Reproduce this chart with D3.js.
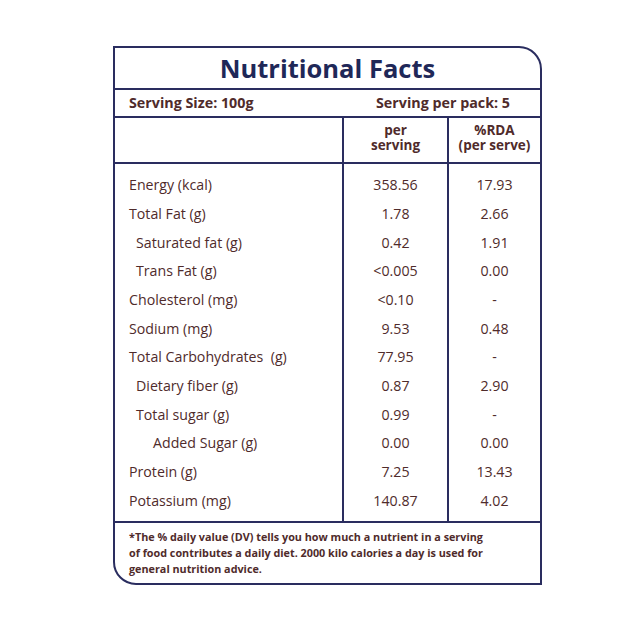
<!DOCTYPE html>
<html>
<head>
<meta charset="utf-8">
<script src="https://cdn.jsdelivr.net/npm/d3@7"></script>
<style>
  body { margin: 0; background: #fff; }
  svg { display: block; }
</style>
</head>
<body>
<div id="chart"></div>
<script>
// table content
const nutrients = [
  "Energy (kcal)", "Total Fat (g)", "Saturated fat (g)", "Trans Fat (g)",
  "Cholesterol (mg)", "Sodium (mg)", "Total Carbohydrates  (g)", "Dietary fiber (g)",
  "Total sugar (g)", "Added Sugar (g)", "Protein (g)", "Potassium (mg)"
];
const indentLevel = [0, 0, 1, 1, 0, 0, 0, 1, 1, 2, 0, 0];
const perServing = ["358.56", "1.78", "0.42", "<0.005", "<0.10", "9.53", "77.95",
  "0.87", "0.99", "0.00", "7.25", "140.87"];
const rdaPerServe = ["17.93", "2.66", "1.91", "0.00", "-", "0.48", "-",
  "2.90", "-", "0.00", "13.43", "4.02"];
const headers = [["per", "serving"], ["%RDA", "(per serve)"]];
const footnote = [
  "*The % daily value (DV) tells you how much a nutrient in a serving",
  "of food contributes a daily diet. 2000 kilo calories a day is used for",
  "general nutrition advice."
];

const W = 640, H = 628;
const navy = "#2a2d5f", titleColor = "#1f2858", brown = "#4f2b2b";
const font = "'Open Sans', 'Noto Sans', sans-serif";

const boxL = 114, boxR = 541, boxT = 47, boxB = 584;
const col1 = 343, col2 = 448;
const yTitle = 89, yServing = 117, yHead = 163, yFoot = 522;

const svg = d3.select("#chart").append("svg")
  .attr("width", W).attr("height", H)
  .style("font-family", font);

// outer frame: rounded top-right and bottom-left corners
const r = 22;
const frame = d3.path();
frame.moveTo(boxL, boxT);
frame.lineTo(boxR - r, boxT);
frame.arcTo(boxR, boxT, boxR, boxT + r, r);
frame.lineTo(boxR, boxB);
frame.lineTo(boxL + r, boxB);
frame.arcTo(boxL, boxB, boxL, boxB - r, r);
frame.closePath();
svg.append("path").attr("d", frame.toString())
  .attr("fill", "none").attr("stroke", navy).attr("stroke-width", 2);

// horizontal rules
[yTitle, yServing, yHead, yFoot].forEach(yy => {
  svg.append("line").attr("x1", boxL).attr("x2", boxR)
    .attr("y1", yy).attr("y2", yy)
    .attr("stroke", navy).attr("stroke-width", 2);
});
// column rules
[col1, col2].forEach(x => {
  svg.append("line").attr("x1", x).attr("x2", x)
    .attr("y1", yServing).attr("y2", yFoot)
    .attr("stroke", navy).attr("stroke-width", 2);
});

// title
svg.append("text")
  .attr("x", (boxL + boxR) / 2).attr("y", 78)
  .attr("text-anchor", "middle")
  .attr("fill", titleColor)
  .style("font-size", "25.5px").style("font-weight", 700)
  .text("Nutritional Facts");

// serving row
svg.append("text").attr("x", 129).attr("y", 108)
  .attr("fill", brown).style("font-size", "14.3px").style("font-weight", 700)
  .text("Serving Size: 100g");
svg.append("text").attr("x", 510).attr("y", 108)
  .attr("text-anchor", "end")
  .attr("fill", brown).style("font-size", "14.3px").style("font-weight", 700)
  .text("Serving per pack: 5");

// header cells (two stacked lines in one text)
const colCenter = [(col1 + col2) / 2, (col2 + boxR) / 2];
headers.forEach((lines, i) => {
  const t = svg.append("text")
    .attr("x", colCenter[i]).attr("y", 135)
    .attr("text-anchor", "middle")
    .attr("fill", brown).style("font-size", "13.5px").style("font-weight", 700);
  lines.forEach((s, j) => {
    t.append("tspan").attr("x", colCenter[i]).attr("dy", j === 0 ? 0 : 14.5).text(s);
  });
});

// body rows
const y = d3.scaleBand()
  .domain(nutrients)
  .range([171, 515]);

const rows = svg.selectAll(".row")
  .data(nutrients)
  .enter().append("g")
  .attr("class", "row")
  .attr("transform", d => `translate(0, ${y(d) + y.bandwidth() / 2})`);

const indentX = d3.scaleOrdinal().domain([0, 1, 2]).range([129, 136, 153]);

rows.append("text")
  .attr("x", (d, i) => indentX(indentLevel[i]))
  .attr("dy", "0.35em")
  .attr("fill", brown).style("font-size", "14.2px")
  .style("white-space", "pre")
  .text(d => d);

rows.append("text")
  .attr("x", colCenter[0]).attr("dy", "0.35em")
  .attr("text-anchor", "middle")
  .attr("fill", brown).style("font-size", "14.2px")
  .text((d, i) => perServing[i]);

rows.append("text")
  .attr("x", colCenter[1]).attr("dy", "0.35em")
  .attr("text-anchor", "middle")
  .attr("fill", brown).style("font-size", "14.2px")
  .text((d, i) => rdaPerServe[i]);

// footnote
svg.selectAll(".foot")
  .data(footnote)
  .enter().append("text")
  .attr("class", "foot")
  .attr("x", 129).attr("y", (d, i) => 541 + i * 16)
  .attr("fill", brown).style("font-size", "10.8px").style("font-weight", 700)
  .text(d => d);
</script>
</body>
</html>
